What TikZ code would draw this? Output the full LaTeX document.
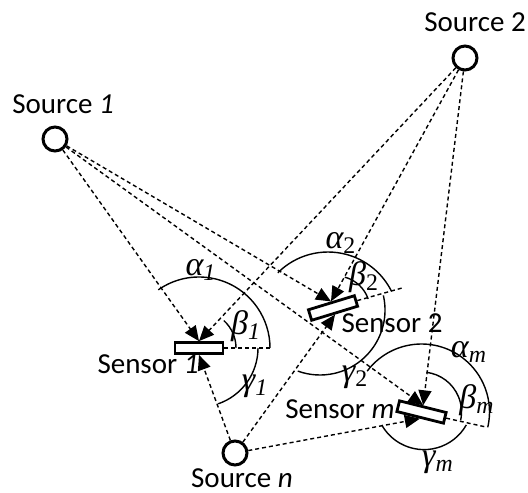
\documentclass[tikz,border=0pt]{standalone}
\usepackage{fontspec}
\setmainfont{Carlito}
\newfontfamily\grk{Liberation Serif}
\usetikzlibrary{arrows.meta}

% angle label: greek letter with index
\newcommand{\anglab}[2]{{\fontsize{17}{20}\selectfont\grk\itshape #1\textsubscript{#2}}}

\tikzset{
  source/.style={circle, draw, line width=1.5pt, minimum size=12pt, inner sep=0pt},
  sensor/.style={rectangle, draw, line width=1.4pt, fill=white, minimum width=24pt, minimum height=5.5pt, inner sep=0pt},
  ray/.style={dash pattern=on 2pt off 1.5pt, line width=0.7pt, -{Triangle[length=7.5pt,width=6.5pt]}},
  refline/.style={dash pattern=on 2pt off 1.5pt, line width=0.7pt},
  ang/.style={line width=0.7pt},
  lab/.style={anchor=base, inner sep=1pt},
}

\begin{document}
\begin{tikzpicture}[x=0.5pt, y=0.5pt, font=\fontsize{14.5}{17}\selectfont]
\useasboundingbox (0,0) rectangle (528,-492);

% sources
\node[source] (src1) at (55,-139) {};
\node[source] (src2) at (465,-58) {};
\node[source] (srcn) at (235,-453) {};
\node[lab] (lsrc1) at (63,-113) {Source \textit{1}};
\node[lab] (lsrc2) at (475,-32) {Source 2};
\node[lab] (lsrcn) at (242,-487) {Source \textit{n}};

% sensors
\node[sensor] (s1) at (199,-348) {};
\node[sensor, rotate=17] (s2) at (333,-308) {};
\node[sensor, rotate=-14] (sm) at (421.5,-412) {};
\node[lab] (ls1) at (148,-373) {Sensor \textit{1}};
\node[lab] (ls2) at (392,-332) {Sensor 2};
\node[lab] (lsm) at (340,-418) {Sensor \textit{m}};

% rays from every source to every sensor
\foreach \s in {1,2,m}
{
    \draw[ray] (src1) -- (s\s.north);
    \draw[ray] (src2) -- (s\s.north);
    \draw[ray] (srcn) -- (s\s.south);
}

% sensor axes
\coordinate (r1) at (270,-348);
\coordinate (r2) at (402,-288);
\coordinate (rm) at (486,-427);
\draw[refline] (s1.east) -- (r1);
\draw[refline] (s2.east) -- (r2);
\draw[refline] (sm.east) -- (rm);

% angles at sensor 1
\draw[ang] (s1.center) ++(125:71) arc[start angle=125, end angle=0, radius=71];
\draw[ang] (s1.center) ++(48:37) arc[start angle=48, end angle=0, radius=37];
\draw[ang] (s1.center) ++(0:59) arc[start angle=0, end angle=-71, radius=59];
\node (a1) at (201,-270) {\anglab{α}{\textit{1}}};
\node (b1) at (246,-326) {\anglab{β}{\textit{1}}};
\node (g1) at (255,-386) {\anglab{γ}{\textit{1}}};

% angles at sensor 2
\draw[ang] (328,-323) ++(135:71) arc[start angle=135, end angle=26.6, radius=71];
\draw[ang] (336,-310) ++(75:34) arc[start angle=75, end angle=19, radius=34];
\draw[ang] (320,-310) ++(13:65) arc[start angle=13, end angle=-110, radius=65];
\node (a2) at (341,-243) {\anglab{α}{\upshape 2}};
\node (b2) at (364,-277) {\anglab{β}{\upshape 2}};
\node (g2) at (355,-377) {\anglab{γ}{\upshape 2}};

% angles at sensor m
\draw[ang] (sm.center) ++(143:68) arc[start angle=143, end angle=-13, radius=68];
\draw[ang] (sm.center) ++(83:40) arc[start angle=83, end angle=-12, radius=40];
\draw[ang] (424,-401) ++(-29.5:48.6) arc[start angle=-29.5, end angle=-150.5, radius=48.6];
\node (am) at (469,-352) {\anglab{α}{m}};
\node (bm) at (477,-400) {\anglab{β}{m}};
\node (gm) at (438,-462) {\anglab{γ}{m}};

\end{tikzpicture}
\end{document}
